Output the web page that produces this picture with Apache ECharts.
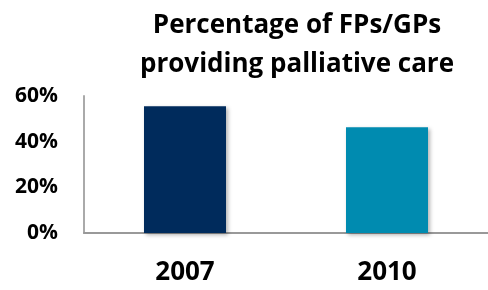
<!DOCTYPE html>
<html><head><meta charset="utf-8">
<script src="https://cdn.jsdelivr.net/npm/echarts@6/dist/echarts.min.js"></script>
<style>html,body{margin:0;padding:0;background:#fff}#c{width:488px;height:290px}</style>
</head><body><div id="c"></div>
<script>
var categories = ['2007', '2010'];
var values = [55.5, 46.3];
var barColors = ['#002B5C', '#008BB0'];
var yTicks = [0, 20, 40, 60];

var chart = echarts.init(document.getElementById('c'), null, {renderer: 'canvas'});
chart.setOption({
  animation: false,
  title: {
    text: 'Percentage of FPs/GPs\nproviding palliative care',
    left: 292, textAlign: 'center', top: 1,
    textStyle: {fontFamily: 'Open Sans', fontWeight: 'bold', fontSize: 26, lineHeight: 39, color: '#000'}
  },
  grid: {left: 84, right: 0, top: 96, bottom: 57},
  xAxis: {
    type: 'category', data: categories,
    axisLine: {lineStyle: {color: '#999', width: 2}},
    axisTick: {show: false},
    axisLabel: {fontFamily: 'Open Sans', fontWeight: 'bold', fontSize: 26, color: '#000', margin: 27}
  },
  yAxis: {
    type: 'value', min: yTicks[0], max: yTicks[yTicks.length - 1], interval: 20,
    axisLine: {show: true, lineStyle: {color: '#aaa', width: 2}},
    axisTick: {show: false},
    splitLine: {show: false},
    axisLabel: {fontFamily: 'Open Sans', fontWeight: 'bold', fontSize: 21, color: '#000', margin: 26,
      formatter: function (v) { return v + '%'; }}
  },
  series: [{
    type: 'bar', barWidth: 82,
    data: values.map(function (v, i) {
      return {value: v, itemStyle: {color: barColors[i], shadowColor: 'rgba(0,0,0,0.3)', shadowBlur: 4, shadowOffsetX: 2, shadowOffsetY: 2}};
    })
  }]
});
</script></body></html>
